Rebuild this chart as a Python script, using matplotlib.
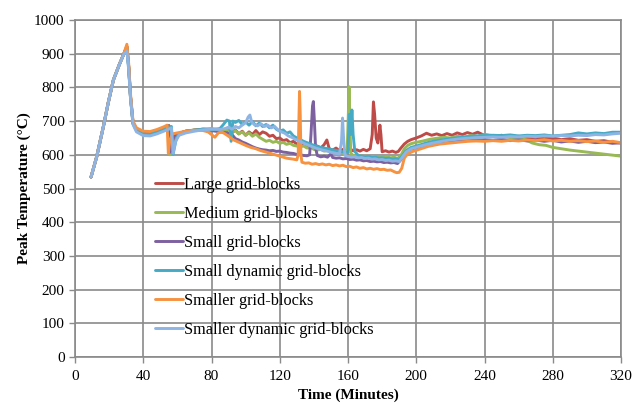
import matplotlib
matplotlib.use("Agg")
import matplotlib.pyplot as plt

# ---------------- data ----------------
series_names = ["Large grid-blocks", "Medium grid-blocks", "Small grid-blocks",
                "Small dynamic grid-blocks", "Smaller grid-blocks",
                "Smaller dynamic grid-blocks"]
series_colors = ["#BE4B48", "#98B954", "#7D60A0", "#46AAC5", "#F69240", "#8EB4E3"]

t_ramp = [9.4, 12.7, 16.6, 19.5, 22.5, 26.0, 28.5]
v_ramp = [534, 594, 683, 755, 822, 868, 898]

t_large = [30.4, 31.5, 32.5, 34, 36, 40, 44, 48, 52, 55, 55.6, 56.5, 58, 60, 65, 70, 75, 80,
           85, 88, 90, 92, 94, 96, 98, 100, 102, 104, 106, 108, 110, 112, 114, 116, 118, 120, 122,
           124, 126, 128, 130, 132, 134, 136, 138, 140, 142, 144, 146, 147.6, 149, 151, 153, 155,
           157, 159, 161, 163, 165, 167, 169, 171, 173, 174.2, 174.9, 175.6, 176.5, 177.5, 178.7,
           179.3, 180, 182, 184, 186, 188, 189.5, 191, 193, 195, 197, 200, 203, 206, 209, 212, 215,
           218, 221, 224, 227, 230, 233, 236, 239, 242, 246, 250, 255, 260, 265, 270, 275, 280, 285,
           290, 295, 300, 305, 310, 315, 320]
v_large = [922, 860, 775, 695, 676, 667, 666, 672, 680, 687, 640, 615, 650, 662, 670, 673, 676, 675,
           672, 668, 676, 665, 674, 662, 670, 658, 668, 660, 672, 660, 668, 664, 655, 658, 648, 650, 642,
           645, 636, 640, 632, 629, 632, 625, 628, 622, 626, 620, 630, 644, 618, 614, 620, 612,
           616, 612, 618, 612, 615, 611, 616, 612, 618, 660, 757, 720, 650, 635, 688,
           660, 609, 612, 608, 611, 607, 610, 620, 632, 640, 645, 650, 656, 664, 658, 662, 657,
           663, 658, 665, 660, 666, 661, 667, 660, 658, 655, 658, 652, 655, 650, 652, 648, 650, 645,
           648, 643, 645, 640, 642, 637, 635]

t_medium = [30.4, 31.5, 32.5, 34, 36, 40, 44, 48, 52, 55, 55.7, 56.5, 58, 60, 65, 70, 75, 80,
            85, 88, 90, 92, 94, 96, 98, 100, 102, 104, 106, 108, 110, 112, 114, 116, 118, 120, 122,
            124, 126, 128, 130, 132, 134, 136, 138, 140, 142, 144, 146, 148, 150, 152, 154, 156, 158,
            159.5, 160.2, 160.6, 161.1, 161.6, 163, 165, 167, 169, 171, 173, 175, 177, 179, 181, 183,
            185, 187, 189, 191, 193, 195, 197, 200, 204, 208, 212, 216, 220, 224, 228, 232, 236, 240,
            245, 250, 255, 260, 264, 268, 272, 276, 280, 285, 290, 295, 300, 305, 310, 315, 320]
v_medium = [920, 858, 773, 693, 675, 666, 665, 671, 679, 686, 600, 625, 652, 660, 670, 674, 676, 678,
            674, 670, 676, 668, 672, 662, 668, 658, 665, 655, 662, 652, 646, 640, 643, 637, 640, 634, 637,
            631, 634, 628, 626, 624, 626, 620, 622, 616, 614, 616, 611, 613, 609, 610, 606, 607, 603,
            610, 720, 802, 700, 605, 598, 596, 598, 594, 596, 593, 595, 592, 594, 592, 594,
            591, 593, 589, 598, 618, 628, 633, 637, 641, 646, 649, 652, 650, 655, 652, 657, 655, 660,
            657, 655, 652, 648, 645, 635, 630, 628, 622, 618, 614, 611, 608, 605, 602, 599, 596]

t_small = [30.4, 31.5, 32.5, 34, 36, 40, 44, 48, 52, 55, 55.7, 56.5, 58, 60, 65, 70, 75, 80,
           85, 88, 90, 92, 94, 96, 98, 100, 102, 104, 106, 108, 110, 112, 114, 116, 118, 120, 122,
           124, 126, 128, 130, 132, 134, 136, 137.5, 138.3, 139.2, 139.7, 140.3, 141, 142, 144, 146,
           148, 150, 151, 153, 155, 157, 159, 161, 163, 165, 167, 169, 171, 173, 175, 177, 179, 181,
           183, 185, 187, 189, 191, 193, 195, 197, 200, 204, 208, 212, 216, 220, 225, 230, 235, 240,
           245, 250, 255, 260, 265, 270, 275, 280, 285, 290, 295, 300, 305, 310, 315, 320]
v_small = [921, 859, 774, 694, 675, 666, 665, 671, 679, 686, 608, 630, 655, 662, 670, 673, 675, 672,
           668, 666, 664, 660, 648, 644, 638, 634, 629, 624, 620, 617, 615, 614, 612, 613, 610, 611, 608,
           607, 605, 604, 601, 600, 598, 597, 600, 660, 745, 758, 700, 620, 598, 594, 596,
           593, 603, 592, 590, 591, 588, 589, 586, 587, 584, 585, 582, 583, 580, 581, 579, 580, 577,
           578, 576, 577, 574, 585, 603, 612, 617, 621, 626, 630, 633, 636, 638, 640, 642, 643, 645,
           643, 646, 642, 645, 641, 644, 640, 643, 638, 641, 637, 640, 636, 638, 634, 636]

t_sdyn = [30.4, 31.5, 32.5, 34, 36, 40, 44, 48, 52, 55, 56.5, 57.5, 59, 60, 62, 65, 70, 75, 80,
          85, 87, 89, 90.5, 91.5, 92.5, 94, 96, 98, 100, 102, 104, 106, 108, 110, 112, 114, 116, 118,
          120, 122, 124, 126, 128, 130, 132, 134, 136, 138, 140, 142, 144, 146, 148, 150, 152, 154,
          156, 158, 160, 160.8, 161.5, 162.3, 163, 164, 166, 168, 170, 172, 174, 176, 178, 180, 182,
          184, 186, 188, 190, 192, 194, 197, 200, 204, 208, 212, 216, 220, 225, 230, 235, 240, 245,
          250, 255, 260, 265, 270, 275, 280, 285, 290, 295, 300, 305, 310, 315, 320]
v_sdyn = [915, 855, 772, 692, 672, 662, 661, 667, 675, 682, 684, 602, 640, 655, 665, 670, 673, 676, 674,
          678, 690, 703, 700, 640, 700, 696, 702, 690, 698, 688, 699, 686, 694, 684, 690, 680, 688, 676,
          670, 674, 664, 668, 656, 650, 645, 640, 636, 632, 628, 625, 622, 620, 618, 616, 614, 612,
          610, 608, 607, 720, 660, 733, 660, 610, 598, 596, 594, 595, 592, 593, 590, 591, 589,
          590, 587, 588, 586, 598, 612, 622, 626, 632, 638, 642, 645, 648, 651, 654, 656, 657, 658,
          657, 659, 656, 658, 657, 659, 656, 658, 660, 665, 662, 665, 663, 667, 667]

t_smaller = [30.4, 31.5, 32.5, 34, 36, 40, 44, 48, 52, 54, 54.7, 55.5, 57, 60, 65, 70, 75, 78,
             80, 82, 84, 86, 88, 90, 93, 97, 100, 103, 106, 109, 112, 116, 120, 124, 128, 130, 130.8,
             131.3, 131.6, 132, 132.4, 133, 135, 137, 139, 141, 143, 145, 147, 149, 151, 153, 155, 157,
             159, 161, 163, 165, 167, 169, 171, 173, 175, 177, 179, 181, 183, 185, 187, 188.5, 190,
             191.5, 193, 195, 198, 201, 204, 207, 210, 214, 218, 222, 226, 230, 235, 240, 245, 250,
             255, 260, 265, 270, 275, 280, 285, 290, 295, 300, 305, 310, 315, 320]
v_smaller = [928, 868, 782, 700, 680, 670, 669, 675, 683, 688, 605, 640, 662, 665, 670, 673, 672, 668,
             660, 652, 665, 668, 662, 655, 644, 635, 628, 622, 618, 612, 608, 602, 596, 590, 587, 585, 600,
             720, 788, 720, 600, 578, 575, 576, 572, 574, 571, 573, 570, 572, 568, 570, 567, 569,
             565, 566, 562, 564, 560, 562, 558, 560, 557, 559, 556, 557, 554, 555, 550, 547, 548,
             560, 590, 603, 610, 615, 620, 625, 628, 632, 634, 636, 638, 640, 641, 640, 642, 640,
             643, 641, 644, 642, 645, 641, 643, 640, 642, 639, 641, 637, 640, 636]

t_srdyn = [30.4, 31.5, 32.5, 34, 36, 40, 44, 48, 52, 55, 56.5, 57.5, 59, 61, 65, 70, 75, 80,
           85, 88, 90, 92, 94, 96, 98, 100, 101.5, 102.5, 103.5, 105, 107, 109, 111, 113, 115, 117,
           119, 121, 123, 125, 127, 129, 131, 133, 135, 137, 139, 141, 143, 145, 147, 149, 151, 153,
           155, 156.2, 156.8, 157.4, 158.2, 160, 162, 164, 166, 168, 170, 172, 174, 176, 178, 180,
           182, 184, 186, 188, 190, 192, 194, 197, 200, 204, 208, 212, 216, 220, 225, 230, 235, 240,
           245, 250, 255, 260, 265, 270, 275, 280, 285, 290, 295, 300, 305, 310, 315, 320]
v_srdyn = [908, 850, 770, 690, 668, 657, 656, 662, 670, 676, 680, 605, 640, 658, 665, 670, 674, 676,
           675, 678, 682, 676, 684, 680, 688, 695, 712, 718, 698, 690, 686, 692, 684, 688, 680, 684,
           674, 668, 664, 656, 652, 646, 642, 637, 632, 628, 624, 620, 617, 614, 612, 609, 606, 604,
           603, 640, 709, 650, 598, 595, 593, 594, 591, 592, 589, 590, 587, 588, 585, 586,
           583, 584, 581, 582, 580, 594, 608, 618, 622, 628, 633, 637, 641, 644, 647, 649, 651, 652,
           653, 652, 654, 653, 655, 654, 656, 655, 657, 656, 658, 657, 660, 659, 662, 664]

series_t = [t_large, t_medium, t_small, t_sdyn, t_smaller, t_srdyn]
series_v = [v_large, v_medium, v_small, v_sdyn, v_smaller, v_srdyn]

x_ticks = [0, 40, 80, 120, 160, 200, 240, 280, 320]
y_ticks = [0, 100, 200, 300, 400, 500, 600, 700, 800, 900, 1000]

# ---------------- plot ----------------
plt.rcParams['font.family'] = ['Liberation Serif', 'DejaVu Serif']
fig = plt.figure(figsize=(6.44, 4.04), dpi=100)
ax = fig.add_axes([75/644, 1-357/404, 546/644, 337/404])

grey = "#8A8A8A"
for name, col, tt, vv in zip(series_names, series_colors, series_t, series_v):
    ax.plot(t_ramp + tt, v_ramp + vv, color=col, lw=2.1, label=name,
            solid_joinstyle='round', solid_capstyle='round')

ax.set_xlim(0, 320)
ax.set_ylim(0, 1000)
ax.set_xticks(x_ticks)
ax.set_yticks(y_ticks)
ax.grid(True, color=grey, lw=1.2)
ax.set_axisbelow(True)
for s in ax.spines.values():
    s.set_color(grey)
    s.set_linewidth(1.2)
ax.tick_params(axis='both', colors=grey, labelcolor='black', labelsize=11,
               length=4, width=1.0, direction='out')
ax.tick_params(axis='x', pad=5)
ax.set_xlabel("Time (Minutes)", fontsize=11, fontweight='bold', labelpad=4)
ax.set_ylabel("Peak Temperature (°C)", fontsize=11, fontweight='bold', labelpad=2)

leg = ax.legend(loc='upper left', bbox_to_anchor=((155-75)/546, (357-177)/337),
                frameon=False, fontsize=11.7, handlelength=1.7, handletextpad=0.1,
                labelspacing=0.8, borderpad=0, borderaxespad=0)

fig.savefig("out.png", dpi=100)
